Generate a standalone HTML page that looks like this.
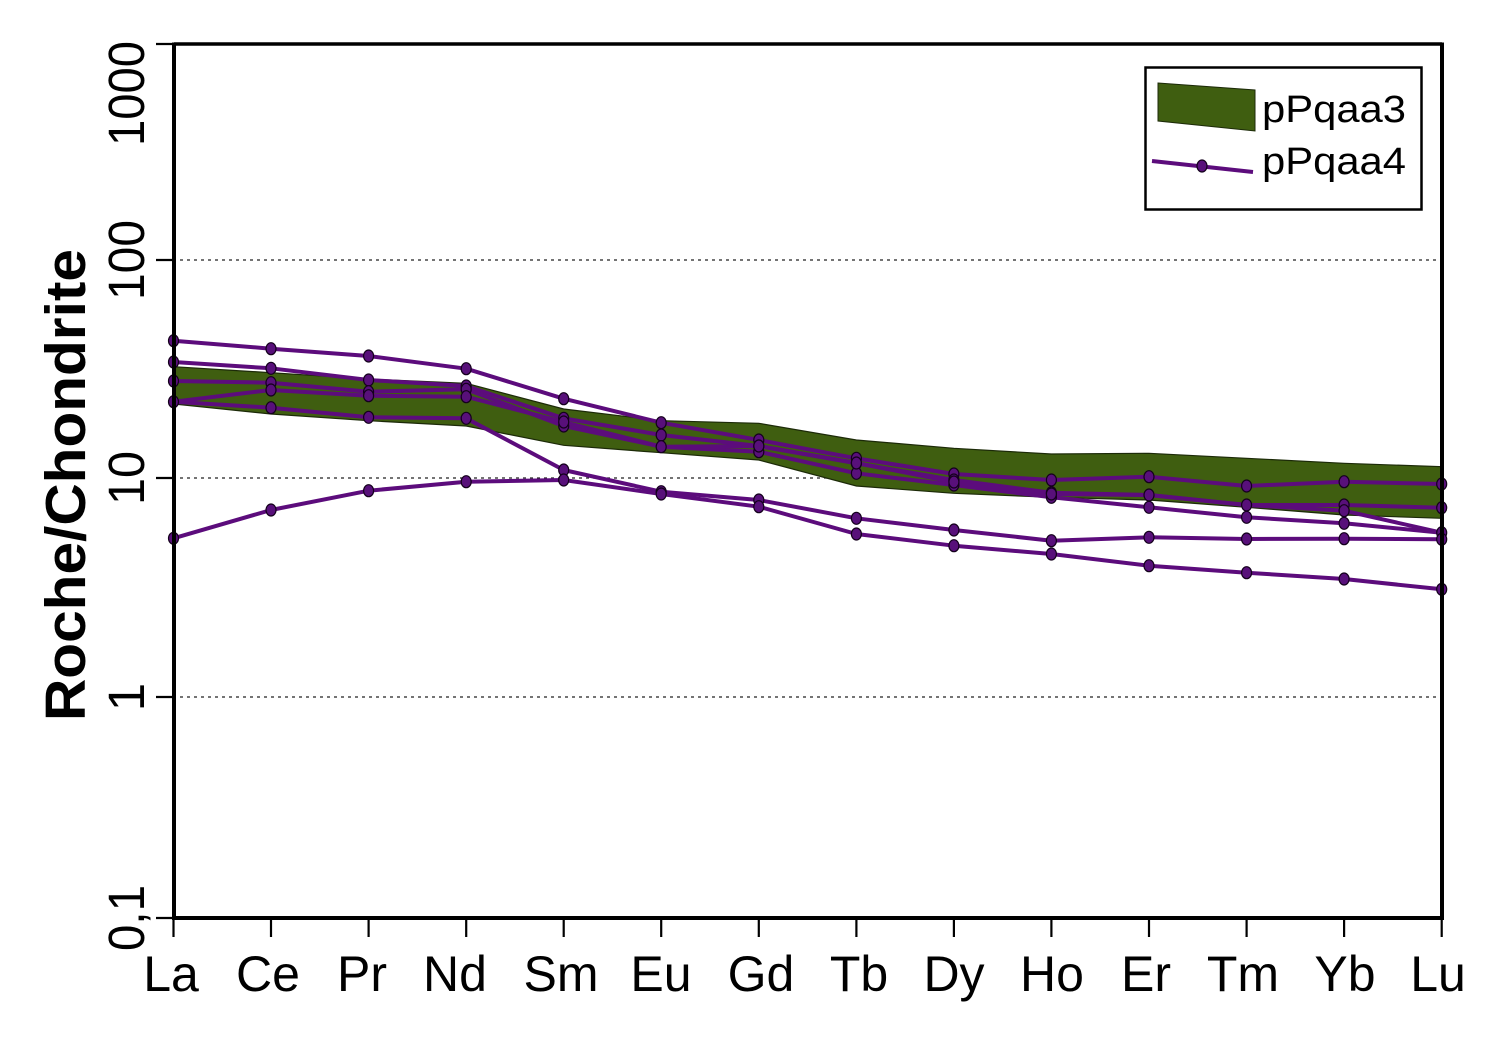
<!DOCTYPE html>
<html>
<head>
<meta charset="utf-8">
<style>
  html,body{margin:0;padding:0;background:#fff;}
  svg{display:block;}
  text{font-family:"Liberation Sans", Arial, sans-serif;fill:#000;}
</style>
</head>
<body>
<svg width="1505" height="1054" viewBox="0 0 1505 1054" xmlns="http://www.w3.org/2000/svg">
  <rect x="0" y="0" width="1505" height="1054" fill="#fff"/>

  <!-- gridlines -->
  <g stroke="#222" stroke-width="1.2" stroke-dasharray="3,4">
    <line x1="180" y1="260" x2="1438" y2="260"/>
    <line x1="180" y1="478" x2="1438" y2="478"/>
    <line x1="180" y1="697" x2="1438" y2="697"/>
  </g>

  <!-- band pPqaa3 -->
  <polygon fill="#3f5e10" stroke="#1c2a08" stroke-width="1.2"
    points="173.5,366.7 271,372.7 368.6,379 466.2,383.3 563.7,409 661.2,420.7 758.8,423.3 856.4,440 953.9,448.3 1051.4,454 1149,453.3 1246.6,458.3 1344.1,463.3 1441.7,466.7
            1441.7,518.3 1344.1,515 1246.6,507.3 1149,500 1051.4,497.3 953.9,493.3 856.4,486 758.8,460 661.2,452.7 563.7,445.3 466.2,426 368.6,420.7 271,414 173.5,404"/>

  <!-- series pPqaa4 -->
  <g fill="none" stroke="#5c0c7c" stroke-width="4" stroke-linejoin="round">
    <polyline points="173.5,340.7 271,348.7 368.6,356 466.2,368.7 563.7,398.7 661.2,422.7 758.8,440 856.4,458.3 953.9,474 1051.4,480 1149,476.7 1246.6,486 1344.1,481.7 1441.7,484"/>
    <polyline points="173.5,362 271,368.3 368.6,380 466.2,386 563.7,418.3 661.2,435 758.8,446 856.4,463.3 953.9,480 1051.4,492.7 1149,495 1246.6,505 1344.1,505 1441.7,507.7"/>
    <polyline points="173.5,381 271,382.7 368.6,391.7 466.2,389.3 563.7,426 661.2,446.7 758.8,451.7 856.4,473.3 953.9,485 1051.4,497.3 1149,507.3 1246.6,517.3 1344.1,523.3 1441.7,532.7"/>
    <polyline points="173.5,401.7 271,390 368.6,395.7 466.2,396.7 563.7,422 661.2,446.7 758.8,446 856.4,463 953.9,482 1051.4,494 1149,495 1246.6,505 1344.1,510.7 1441.7,532.7"/>
    <polyline points="173.5,401.7 271,407.7 368.6,417.3 466.2,418.3 563.7,470 661.2,491.7 758.8,500 856.4,518.3 953.9,530 1051.4,540.7 1149,537.3 1246.6,539 1344.1,538.7 1441.7,539.3"/>
    <polyline points="173.5,538.3 271,510 368.6,490.7 466.2,481.7 563.7,480 661.2,494 758.8,506.7 856.4,534 953.9,545.7 1051.4,554 1149,565.7 1246.6,572.7 1344.1,579 1441.7,589.3"/>
  </g>
  <g fill="#58107a" stroke="#14001c" stroke-width="1.2">
    <!-- A -->
    <ellipse cx="173.5" cy="340.7" rx="5" ry="6"/><ellipse cx="271" cy="348.7" rx="5" ry="6"/><ellipse cx="368.6" cy="356" rx="5" ry="6"/><ellipse cx="466.2" cy="368.7" rx="5" ry="6"/><ellipse cx="563.7" cy="398.7" rx="5" ry="6"/><ellipse cx="661.2" cy="422.7" rx="5" ry="6"/><ellipse cx="758.8" cy="440" rx="5" ry="6"/><ellipse cx="856.4" cy="458.3" rx="5" ry="6"/><ellipse cx="953.9" cy="474" rx="5" ry="6"/><ellipse cx="1051.4" cy="480" rx="5" ry="6"/><ellipse cx="1149" cy="476.7" rx="5" ry="6"/><ellipse cx="1246.6" cy="486" rx="5" ry="6"/><ellipse cx="1344.1" cy="481.7" rx="5" ry="6"/><ellipse cx="1441.7" cy="484" rx="5" ry="6"/>
    <!-- B -->
    <ellipse cx="173.5" cy="362" rx="5" ry="6"/><ellipse cx="271" cy="368.3" rx="5" ry="6"/><ellipse cx="368.6" cy="380" rx="5" ry="6"/><ellipse cx="466.2" cy="386" rx="5" ry="6"/><ellipse cx="563.7" cy="418.3" rx="5" ry="6"/><ellipse cx="661.2" cy="435" rx="5" ry="6"/><ellipse cx="758.8" cy="446" rx="5" ry="6"/><ellipse cx="856.4" cy="463.3" rx="5" ry="6"/><ellipse cx="953.9" cy="480" rx="5" ry="6"/><ellipse cx="1051.4" cy="492.7" rx="5" ry="6"/><ellipse cx="1149" cy="495" rx="5" ry="6"/><ellipse cx="1246.6" cy="505" rx="5" ry="6"/><ellipse cx="1344.1" cy="505" rx="5" ry="6"/><ellipse cx="1441.7" cy="507.7" rx="5" ry="6"/>
    <!-- C -->
    <ellipse cx="173.5" cy="381" rx="5" ry="6"/><ellipse cx="271" cy="382.7" rx="5" ry="6"/><ellipse cx="368.6" cy="391.7" rx="5" ry="6"/><ellipse cx="466.2" cy="389.3" rx="5" ry="6"/><ellipse cx="563.7" cy="426" rx="5" ry="6"/><ellipse cx="661.2" cy="446.7" rx="5" ry="6"/><ellipse cx="758.8" cy="451.7" rx="5" ry="6"/><ellipse cx="856.4" cy="473.3" rx="5" ry="6"/><ellipse cx="953.9" cy="485" rx="5" ry="6"/><ellipse cx="1051.4" cy="497.3" rx="5" ry="6"/><ellipse cx="1149" cy="507.3" rx="5" ry="6"/><ellipse cx="1246.6" cy="517.3" rx="5" ry="6"/><ellipse cx="1344.1" cy="523.3" rx="5" ry="6"/><ellipse cx="1441.7" cy="532.7" rx="5" ry="6"/>
    <!-- D -->
    <ellipse cx="173.5" cy="401.7" rx="5" ry="6"/><ellipse cx="271" cy="390" rx="5" ry="6"/><ellipse cx="368.6" cy="395.7" rx="5" ry="6"/><ellipse cx="466.2" cy="396.7" rx="5" ry="6"/><ellipse cx="563.7" cy="422" rx="5" ry="6"/><ellipse cx="758.8" cy="446" rx="5" ry="6"/><ellipse cx="856.4" cy="463" rx="5" ry="6"/><ellipse cx="953.9" cy="482" rx="5" ry="6"/><ellipse cx="1051.4" cy="494" rx="5" ry="6"/><ellipse cx="1344.1" cy="510.7" rx="5" ry="6"/>
    <!-- E -->
    <ellipse cx="271" cy="407.7" rx="5" ry="6"/><ellipse cx="368.6" cy="417.3" rx="5" ry="6"/><ellipse cx="466.2" cy="418.3" rx="5" ry="6"/><ellipse cx="563.7" cy="470" rx="5" ry="6"/><ellipse cx="661.2" cy="491.7" rx="5" ry="6"/><ellipse cx="758.8" cy="500" rx="5" ry="6"/><ellipse cx="856.4" cy="518.3" rx="5" ry="6"/><ellipse cx="953.9" cy="530" rx="5" ry="6"/><ellipse cx="1051.4" cy="540.7" rx="5" ry="6"/><ellipse cx="1149" cy="537.3" rx="5" ry="6"/><ellipse cx="1246.6" cy="539" rx="5" ry="6"/><ellipse cx="1344.1" cy="538.7" rx="5" ry="6"/><ellipse cx="1441.7" cy="539.3" rx="5" ry="6"/>
    <!-- F -->
    <ellipse cx="173.5" cy="538.3" rx="5" ry="6"/><ellipse cx="271" cy="510" rx="5" ry="6"/><ellipse cx="368.6" cy="490.7" rx="5" ry="6"/><ellipse cx="466.2" cy="481.7" rx="5" ry="6"/><ellipse cx="563.7" cy="480" rx="5" ry="6"/><ellipse cx="661.2" cy="494" rx="5" ry="6"/><ellipse cx="758.8" cy="506.7" rx="5" ry="6"/><ellipse cx="856.4" cy="534" rx="5" ry="6"/><ellipse cx="953.9" cy="545.7" rx="5" ry="6"/><ellipse cx="1051.4" cy="554" rx="5" ry="6"/><ellipse cx="1149" cy="565.7" rx="5" ry="6"/><ellipse cx="1246.6" cy="572.7" rx="5" ry="6"/><ellipse cx="1344.1" cy="579" rx="5" ry="6"/><ellipse cx="1441.7" cy="589.3" rx="5" ry="6"/>
  </g>

  <!-- axes frame -->
  <g stroke="#000" fill="none">
    <line x1="174" y1="44" x2="1442" y2="44" stroke-width="3.5"/>
    <line x1="174" y1="918" x2="1442" y2="918" stroke-width="4"/>
    <line x1="174" y1="42.5" x2="174" y2="920" stroke-width="4"/>
    <line x1="1442" y1="42.5" x2="1442" y2="920" stroke-width="4"/>
  </g>
  <!-- y ticks -->
  <g stroke="#000" stroke-width="2.2">
    <line x1="156" y1="44" x2="174" y2="44"/>
    <line x1="156" y1="260" x2="174" y2="260"/>
    <line x1="156" y1="478" x2="174" y2="478"/>
    <line x1="156" y1="697" x2="174" y2="697"/>
    <line x1="156" y1="918" x2="174" y2="918"/>
  </g>
  <!-- x ticks -->
  <g stroke="#000" stroke-width="2.2">
    <line x1="173.5" y1="918" x2="173.5" y2="937"/>
    <line x1="271" y1="918" x2="271" y2="937"/>
    <line x1="368.6" y1="918" x2="368.6" y2="937"/>
    <line x1="466.2" y1="918" x2="466.2" y2="937"/>
    <line x1="563.7" y1="918" x2="563.7" y2="937"/>
    <line x1="661.2" y1="918" x2="661.2" y2="937"/>
    <line x1="758.8" y1="918" x2="758.8" y2="937"/>
    <line x1="856.4" y1="918" x2="856.4" y2="937"/>
    <line x1="953.9" y1="918" x2="953.9" y2="937"/>
    <line x1="1051.4" y1="918" x2="1051.4" y2="937"/>
    <line x1="1149" y1="918" x2="1149" y2="937"/>
    <line x1="1246.6" y1="918" x2="1246.6" y2="937"/>
    <line x1="1344.1" y1="918" x2="1344.1" y2="937"/>
    <line x1="1441.7" y1="918" x2="1441.7" y2="937"/>
  </g>

  <!-- y tick labels (rotated) -->
  <g font-size="51">
    <text transform="translate(144,41) rotate(-90)" text-anchor="end" textLength="105" lengthAdjust="spacingAndGlyphs">1000</text>
    <text transform="translate(144,260) rotate(-90)" text-anchor="middle" textLength="80" lengthAdjust="spacingAndGlyphs">100</text>
    <text transform="translate(144,478) rotate(-90)" text-anchor="middle" textLength="54" lengthAdjust="spacingAndGlyphs">10</text>
    <text transform="translate(144,697) rotate(-90)" text-anchor="middle">1</text>
    <text transform="translate(144,918) rotate(-90)" text-anchor="middle" textLength="66" lengthAdjust="spacingAndGlyphs">0,1</text>
  </g>

  <!-- y axis title -->
  <text transform="translate(85,485) rotate(-90)" text-anchor="middle" font-size="57" font-weight="bold" textLength="472" lengthAdjust="spacingAndGlyphs">Roche/Chondrite</text>

  <!-- x labels -->
  <g font-size="50" text-anchor="middle">
    <text x="171" y="991">La</text>
    <text x="268" y="991">Ce</text>
    <text x="362" y="991">Pr</text>
    <text x="455" y="991">Nd</text>
    <text x="561" y="991">Sm</text>
    <text x="661" y="991">Eu</text>
    <text x="761" y="991">Gd</text>
    <text x="859" y="991">Tb</text>
    <text x="954" y="991">Dy</text>
    <text x="1052" y="991">Ho</text>
    <text x="1146" y="991">Er</text>
    <text x="1243" y="991">Tm</text>
    <text x="1345" y="991">Yb</text>
    <text x="1438" y="991">Lu</text>
  </g>

  <!-- legend -->
  <rect x="1145.5" y="67.5" width="276" height="142" fill="#fff" stroke="#000" stroke-width="2.5"/>
  <polygon points="1158,83 1255,90 1255,131 1158,121" fill="#3f5e10" stroke="#1c2a08" stroke-width="1"/>
  <line x1="1152" y1="161" x2="1253" y2="172" stroke="#5c0c7c" stroke-width="4"/>
  <ellipse cx="1202" cy="166" rx="5" ry="6" fill="#58107a" stroke="#14001c" stroke-width="1.2"/>
  <text x="1262" y="122" font-size="38" textLength="144" lengthAdjust="spacingAndGlyphs">pPqaa3</text>
  <text x="1262" y="174" font-size="38" textLength="144" lengthAdjust="spacingAndGlyphs">pPqaa4</text>
</svg>
</body>
</html>
